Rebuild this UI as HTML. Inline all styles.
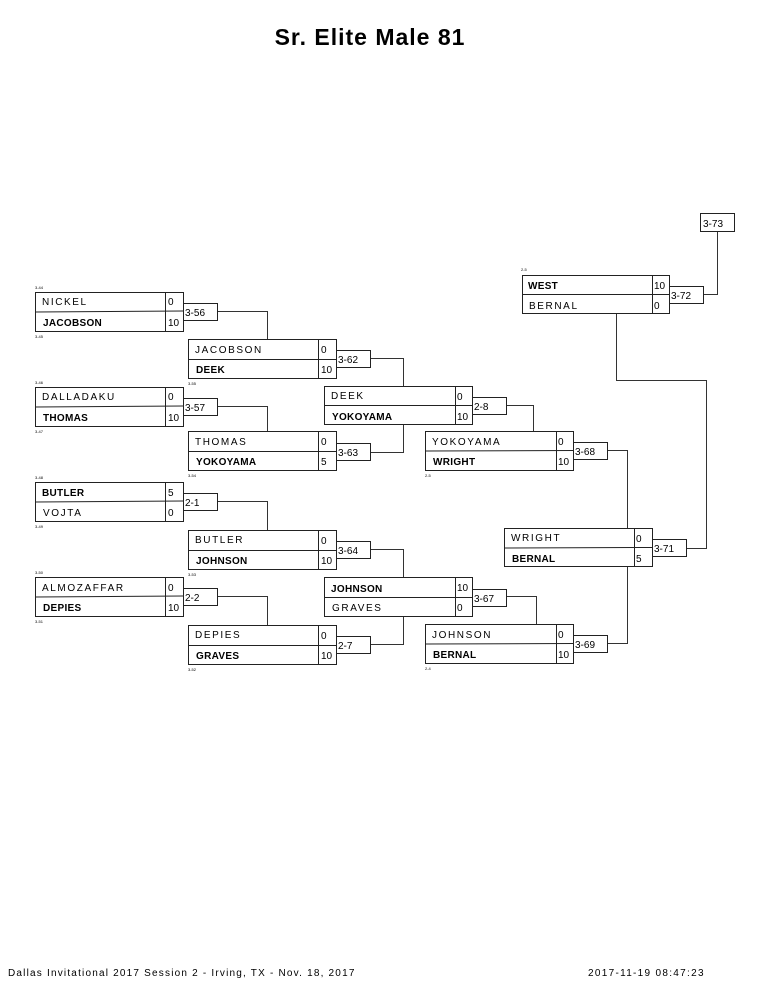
<!DOCTYPE html>
<html><head><meta charset="utf-8"><style>
html,body{margin:0;padding:0;background:#fff;}
svg{display:block;}
text{font-family:"Liberation Sans",Arial,sans-serif;fill:#000;}
.n{font-size:10px;letter-spacing:1.6px;}
.b{font-size:10px;font-weight:bold;letter-spacing:0.3px;}
.s{font-size:10px;}
.t{font-size:4px;}
rect,line,polyline{fill:none;stroke:#222;stroke-width:1;}
polyline{stroke:#333;}
</style></head><body>
<svg width="765" height="990" viewBox="0 0 765 990" xmlns="http://www.w3.org/2000/svg">
<text x="370" y="45" text-anchor="middle" style="font-size:23px;font-weight:bold;letter-spacing:1px">Sr. Elite Male 81</text>

<!-- connectors -->
<polyline points="217.5,311.5 267.5,311.5 267.5,339"/>
<polyline points="217.5,406.5 267.5,406.5 267.5,431"/>
<polyline points="217.5,501.5 267.5,501.5 267.5,530"/>
<polyline points="217.5,596.5 267.5,596.5 267.5,625"/>
<polyline points="370.5,358.5 403.5,358.5 403.5,386"/>
<polyline points="370.5,452.5 403.5,452.5 403.5,425"/>
<polyline points="370.5,549.5 403.5,549.5 403.5,578"/>
<polyline points="370.5,644.5 403.5,644.5 403.5,617"/>
<polyline points="506.5,405.5 533.5,405.5 533.5,431"/>
<polyline points="506.5,596.5 536.5,596.5 536.5,625"/>
<polyline points="607.5,450.5 627.5,450.5 627.5,528"/>
<polyline points="607.5,643.5 627.5,643.5 627.5,567"/>
<polyline points="616.5,314 616.5,380.5 706.5,380.5 706.5,548.5 687,548.5"/>
<polyline points="703.5,294.5 717.5,294.5 717.5,231"/>

<!-- match boxes -->
<g>
<rect x="35.5" y="292.5" width="148" height="39"/><line x1="35.5" y1="312" x2="183.5" y2="311"/><line x1="165.5" y1="292.5" x2="165.5" y2="331.5"/>
<text class="n" x="42" y="305">NICKEL</text><text class="b" x="43" y="326">JACOBSON</text><text class="s" x="168" y="305">0</text><text class="s" x="168" y="326">10</text>
<text class="t" x="35" y="289">3-44</text><text class="t" x="35" y="338">3-45</text>
</g>
<g>
<rect x="188.5" y="339.5" width="148" height="39"/><line x1="188.5" y1="359.5" x2="336.5" y2="359.5"/><line x1="318.5" y1="339.5" x2="318.5" y2="378.5"/>
<text class="n" x="195" y="353">JACOBSON</text><text class="b" x="196" y="373">DEEK</text><text class="s" x="321" y="353">0</text><text class="s" x="321" y="373">10</text>
<text class="t" x="188" y="385">3-55</text>
</g>
<g>
<rect x="35.5" y="387.5" width="148" height="39"/><line x1="35.5" y1="407" x2="183.5" y2="406"/><line x1="165.5" y1="387.5" x2="165.5" y2="426.5"/>
<text class="n" x="42" y="400">DALLADAKU</text><text class="b" x="43" y="421">THOMAS</text><text class="s" x="168" y="400">0</text><text class="s" x="168" y="421">10</text>
<text class="t" x="35" y="384">3-46</text><text class="t" x="35" y="433">3-47</text>
</g>
<g>
<rect x="188.5" y="431.5" width="148" height="39"/><line x1="188.5" y1="451.5" x2="336.5" y2="451.5"/><line x1="318.5" y1="431.5" x2="318.5" y2="470.5"/>
<text class="n" x="195" y="445">THOMAS</text><text class="b" x="196" y="465">YOKOYAMA</text><text class="s" x="321" y="445">0</text><text class="s" x="321" y="465">5</text>
<text class="t" x="188" y="477">3-54</text>
</g>
<g>
<rect x="35.5" y="482.5" width="148" height="39"/><line x1="35.5" y1="502" x2="183.5" y2="501"/><line x1="165.5" y1="482.5" x2="165.5" y2="521.5"/>
<text class="b" x="42" y="496">BUTLER</text><text class="n" x="43" y="516">VOJTA</text><text class="s" x="168" y="496">5</text><text class="s" x="168" y="516">0</text>
<text class="t" x="35" y="479">3-48</text><text class="t" x="35" y="528">3-49</text>
</g>
<g>
<rect x="188.5" y="530.5" width="148" height="39"/><line x1="188.5" y1="550.5" x2="336.5" y2="550.5"/><line x1="318.5" y1="530.5" x2="318.5" y2="569.5"/>
<text class="n" x="195" y="543">BUTLER</text><text class="b" x="196" y="564">JOHNSON</text><text class="s" x="321" y="544">0</text><text class="s" x="321" y="564">10</text>
<text class="t" x="188" y="576">3-53</text>
</g>
<g>
<rect x="35.5" y="577.5" width="148" height="39"/><line x1="35.5" y1="597" x2="183.5" y2="596"/><line x1="165.5" y1="577.5" x2="165.5" y2="616.5"/>
<text class="n" x="42" y="591">ALMOZAFFAR</text><text class="b" x="43" y="611">DEPIES</text><text class="s" x="168" y="591">0</text><text class="s" x="168" y="611">10</text>
<text class="t" x="35" y="574">3-50</text><text class="t" x="35" y="623">3-51</text>
</g>
<g>
<rect x="188.5" y="625.5" width="148" height="39"/><line x1="188.5" y1="645.5" x2="336.5" y2="645.5"/><line x1="318.5" y1="625.5" x2="318.5" y2="664.5"/>
<text class="n" x="195" y="638">DEPIES</text><text class="b" x="196" y="659">GRAVES</text><text class="s" x="321" y="639">0</text><text class="s" x="321" y="659">10</text>
<text class="t" x="188" y="671">3-52</text>
</g>
<g>
<rect x="324.5" y="386.5" width="148" height="38"/><line x1="324.5" y1="405.5" x2="472.5" y2="405.5"/><line x1="455.5" y1="386.5" x2="455.5" y2="424.5"/>
<text class="n" x="331" y="399">DEEK</text><text class="b" x="332" y="420">YOKOYAMA</text><text class="s" x="457" y="400">0</text><text class="s" x="457" y="420">10</text>
</g>
<g>
<rect x="324.5" y="577.5" width="148" height="39"/><line x1="324.5" y1="597.5" x2="472.5" y2="597.5"/><line x1="455.5" y1="577.5" x2="455.5" y2="616.5"/>
<text class="b" x="331" y="592">JOHNSON</text><text class="n" x="332" y="611">GRAVES</text><text class="s" x="457" y="591">10</text><text class="s" x="457" y="611">0</text>
</g>
<g>
<rect x="425.5" y="431.5" width="148" height="39"/><line x1="425.5" y1="451" x2="573.5" y2="450.5"/><line x1="556.5" y1="431.5" x2="556.5" y2="470.5"/>
<text class="n" x="432" y="445">YOKOYAMA</text><text class="b" x="433" y="465">WRIGHT</text><text class="s" x="558" y="445">0</text><text class="s" x="558" y="465">10</text>
<text class="t" x="425" y="477">2-5</text>
</g>
<g>
<rect x="425.5" y="624.5" width="148" height="39"/><line x1="425.5" y1="644" x2="573.5" y2="643.5"/><line x1="556.5" y1="624.5" x2="556.5" y2="663.5"/>
<text class="n" x="432" y="638">JOHNSON</text><text class="b" x="433" y="658">BERNAL</text><text class="s" x="558" y="638">0</text><text class="s" x="558" y="658">10</text>
<text class="t" x="425" y="670">2-4</text>
</g>
<g>
<rect x="504.5" y="528.5" width="148" height="38"/><line x1="504.5" y1="548" x2="652.5" y2="547.5"/><line x1="634.5" y1="528.5" x2="634.5" y2="566.5"/>
<text class="n" x="511" y="541">WRIGHT</text><text class="b" x="512" y="562">BERNAL</text><text class="s" x="636" y="542">0</text><text class="s" x="636" y="562">5</text>
</g>
<g>
<rect x="522.5" y="275.5" width="147" height="38"/><line x1="522.5" y1="294.5" x2="669.5" y2="294.5"/><line x1="652.5" y1="275.5" x2="652.5" y2="313.5"/>
<text class="b" x="528" y="289">WEST</text><text class="n" x="529" y="309">BERNAL</text><text class="s" x="654" y="289">10</text><text class="s" x="654" y="309">0</text>
<text class="t" x="521" y="271">2-5</text>
</g>

<!-- bout boxes -->
<g>
<rect x="183.5" y="303.5" width="34" height="17"/><text class="s" x="185" y="316">3-56</text>
<rect x="183.5" y="398.5" width="34" height="17"/><text class="s" x="185" y="411">3-57</text>
<rect x="183.5" y="493.5" width="34" height="17"/><text class="s" x="185" y="506">2-1</text>
<rect x="183.5" y="588.5" width="34" height="17"/><text class="s" x="185" y="601">2-2</text>
<rect x="336.5" y="350.5" width="34" height="17"/><text class="s" x="338" y="363">3-62</text>
<rect x="336.5" y="443.5" width="34" height="17"/><text class="s" x="338" y="456">3-63</text>
<rect x="336.5" y="541.5" width="34" height="17"/><text class="s" x="338" y="554">3-64</text>
<rect x="336.5" y="636.5" width="34" height="17"/><text class="s" x="338" y="649">2-7</text>
<rect x="472.5" y="397.5" width="34" height="17"/><text class="s" x="474" y="410">2-8</text>
<rect x="472.5" y="589.5" width="34" height="17"/><text class="s" x="474" y="602">3-67</text>
<rect x="573.5" y="442.5" width="34" height="17"/><text class="s" x="575" y="455">3-68</text>
<rect x="573.5" y="635.5" width="34" height="17"/><text class="s" x="575" y="648">3-69</text>
<rect x="652.5" y="539.5" width="34" height="17"/><text class="s" x="654" y="552">3-71</text>
<rect x="669.5" y="286.5" width="34" height="17"/><text class="s" x="671" y="299">3-72</text>
<rect x="700.5" y="213.5" width="34" height="18"/><text class="s" x="703" y="227">3-73</text>
</g>

<text x="8" y="976" style="font-size:10px;letter-spacing:1.2px">Dallas Invitational 2017 Session 2 - Irving, TX - Nov. 18, 2017</text>
<text x="588" y="976" style="font-size:10px;letter-spacing:1.3px">2017-11-19 08:47:23</text>
</svg>
</body></html>
